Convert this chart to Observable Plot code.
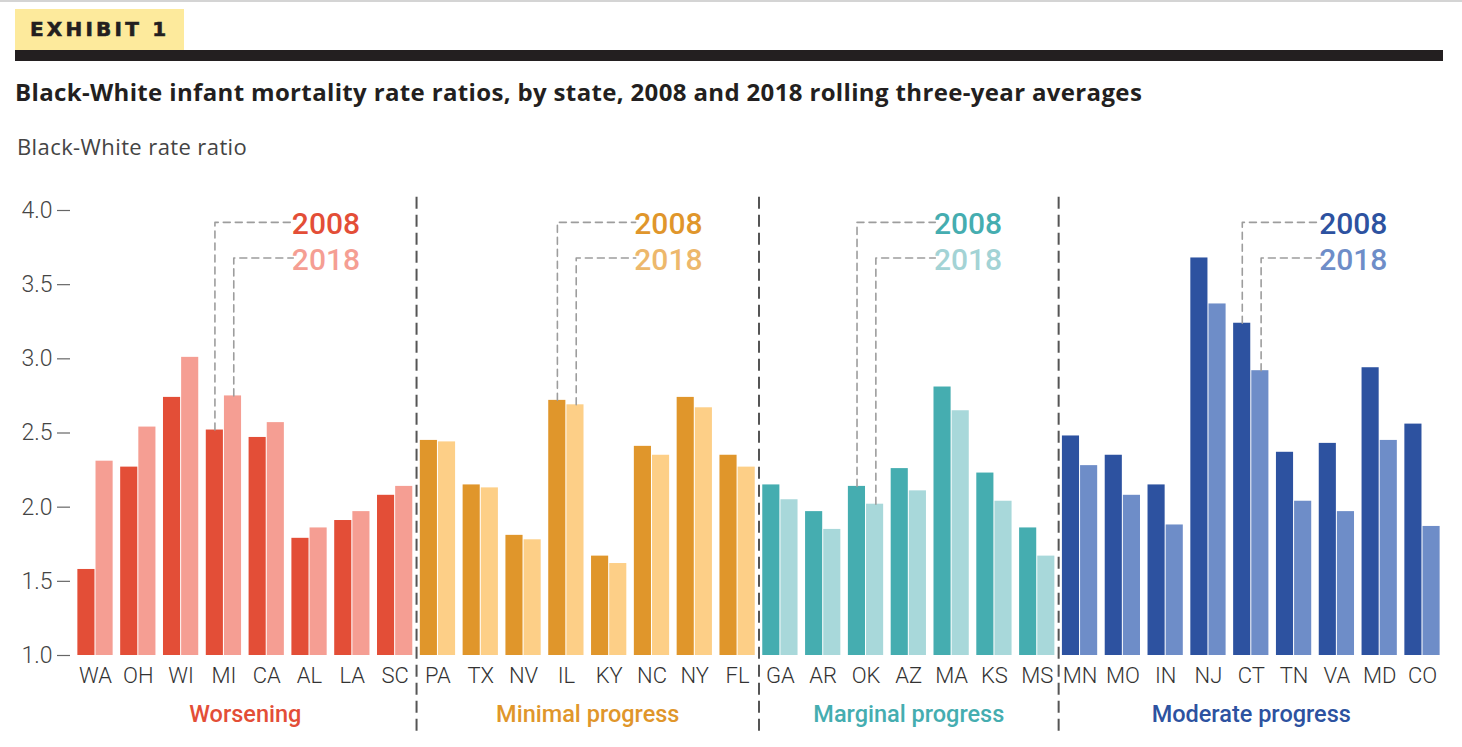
<!DOCTYPE html>
<html>
<head>
<meta charset="utf-8">
<script src="https://cdn.jsdelivr.net/npm/d3@7"></script>
<script src="https://cdn.jsdelivr.net/npm/@observablehq/plot@0.6"></script>
<style>
  html, body { margin: 0; padding: 0; background: #fff; }
  body { width: 1462px; height: 747px; position: relative; overflow: hidden; font-family: Roboto, "Open Sans", sans-serif; }
  #topline { position: absolute; left: 0; top: 0; width: 1462px; height: 2px; background: #d4d4d4; }
  #exhibit { position: absolute; left: 15px; top: 9px; width: 169px; height: 41px; background: #FDEA9C; }
  #exhibit span { position: absolute; left: 15px; top: 8px; font-family: "DejaVu Sans", sans-serif; font-weight: bold; font-size: 20px; letter-spacing: 3.2px; color: #231f20; line-height: 24px; -webkit-text-stroke: 0.6px #231f20; }
  #bar { position: absolute; left: 15px; top: 50px; width: 1428px; height: 11px; background: #231f20; }
  #title { position: absolute; left: 15px; top: 77px; font-family: "Open Sans", Roboto, sans-serif; font-weight: bold; font-size: 24px; color: #231f20; white-space: nowrap; line-height: 30px; letter-spacing: 0.35px; }
  #subtitle { position: absolute; left: 17px; top: 132px; font-family: "Open Sans", Roboto, sans-serif; font-size: 22px; color: #444; white-space: nowrap; line-height: 28px; letter-spacing: 0.4px; }
  #chart { position: absolute; left: 0; top: 180px; }
</style>
</head>
<body>
<div id="topline"></div>
<div id="exhibit"><span>EXHIBIT 1</span></div>
<div id="bar"></div>
<div id="title">Black-White infant mortality rate ratios, by state, 2008 and 2018 rolling three-year averages</div>
<div id="subtitle">Black-White rate ratio</div>
<div id="chart"></div>
<script>
// ---- data ----
const states = ["WA","OH","WI","MI","CA","AL","LA","SC",
                "PA","TX","NV","IL","KY","NC","NY","FL",
                "GA","AR","OK","AZ","MA","KS","MS",
                "MN","MO","IN","NJ","CT","TN","VA","MD","CO"];
const stateGroup = [0,0,0,0,0,0,0,0,
                    1,1,1,1,1,1,1,1,
                    2,2,2,2,2,2,2,
                    3,3,3,3,3,3,3,3,3];
const rate2008 = [1.58,2.27,2.74,2.52,2.47,1.79,1.91,2.08,
                  2.45,2.15,1.81,2.72,1.67,2.41,2.74,2.35,
                  2.15,1.97,2.14,2.26,2.81,2.23,1.86,
                  2.48,2.35,2.15,3.68,3.24,2.37,2.43,2.94,2.56];
const rate2018 = [2.31,2.54,3.01,2.75,2.57,1.86,1.97,2.14,
                  2.44,2.13,1.78,2.69,1.62,2.35,2.67,2.27,
                  2.05,1.85,2.02,2.11,2.65,2.04,1.67,
                  2.28,2.08,1.88,3.37,2.92,2.04,1.97,2.45,1.87];
const groups = ["Worsening","Minimal progress","Marginal progress","Moderate progress"];
const years = ["2008","2018"];
const annotState = ["MI","IL","OK","CT"];
const yTicks = [1.0,1.5,2.0,2.5,3.0,3.5,4.0];

// ---- styles ----
const dark  = ["#E34E37","#E0962B","#45ADB0","#2D52A0"];
const light = ["#F59E93","#FDCF87","#A8D8DA","#6E8DC8"];
const lightText = ["#F59E93","#EDB86C","#A3D3D5","#6E8DC8"];

const bars = [];
states.forEach((s, i) => {
  bars.push({i, g: stateGroup[i], year: "2008", v: rate2008[i]});
  bars.push({i, g: stateGroup[i], year: "2018", v: rate2018[i]});
});
const colorDomain = [], colorRange = [];
groups.forEach((g, k) => {
  colorDomain.push(k + "|2008", k + "|2018");
  colorRange.push(dark[k], light[k]);
});

const idx = d3.range(states.length);
const groupInfo = groups.map((name, k) => {
  const members = idx.filter(i => stateGroup[i] === k);
  return {name, k, center: d3.mean(members), last: d3.max(members)};
});
const separators = groupInfo.slice(0, -1).map(g => g.last + 0.5);

const y08 = 3.92, y18 = 3.68;
const ann = annotState.map((s, k) => {
  const i = states.indexOf(s);
  return {k, i, v08: rate2008[i], v18: rate2018[i]};
});
const annLines = [];
ann.forEach(a => {
  annLines.push({id: a.k + "a", pts: [[a.i - 0.21, a.v08], [a.i - 0.21, y08], [a.i + 1.62, y08]]});
  annLines.push({id: a.k + "b", pts: [[a.i + 0.23, a.v18], [a.i + 0.23, y18], [a.i + 1.62, y18]]});
});
const annLinePts = annLines.flatMap(l => l.pts.map(p => ({id: l.id, x: p[0], y: p[1]})));

const half = 0.40, gap = 0.012;

const plot = Plot.plot({
  width: 1462,
  height: 567,
  marginLeft: 73.6,
  marginRight: 18.6,
  marginTop: 30,
  marginBottom: 92,
  style: {fontFamily: "Roboto, sans-serif", background: "transparent"},
  x: {domain: [-0.5, states.length - 0.5], axis: null},
  y: {domain: [1, 4], axis: null},
  color: {type: "ordinal", domain: colorDomain, range: colorRange},
  marks: [
    Plot.rectY(bars, {
      x1: d => d.year === "2008" ? d.i - half - gap : d.i + gap,
      x2: d => d.year === "2008" ? d.i - gap : d.i + half + gap,
      y1: 1, y2: "v",
      fill: d => d.g + "|" + d.year
    }),
    Plot.ruleX(separators, {x: d => d, y1: 0.49, y2: 4.1, stroke: "#555", strokeWidth: 2, strokeDasharray: "12,6"}),
    Plot.line(annLinePts, {x: "x", y: "y", z: "id", stroke: "#9d9d9d", strokeWidth: 1.6, strokeDasharray: "7,5"}),
    Plot.text(ann, {x: d => d.i + 3.18, y: y08, dy: 2, text: () => years[0], textAnchor: "end", fill: d => dark[d.k], fontSize: 30, fontWeight: 500}),
    Plot.text(ann, {x: d => d.i + 3.18, y: y18, dy: 2, text: () => years[1], textAnchor: "end", fill: d => lightText[d.k], fontSize: 30, fontWeight: 500}),
    Plot.axisY(yTicks, {tickFormat: d3.format(".1f"), tickSize: 13, tickPadding: 5, dx: -3.6, fontSize: 23, fontWeight: 300, fill: "#444", stroke: "#666", strokeWidth: 1.2}),
    Plot.axisX(idx, {tickFormat: i => states[i], tickSize: 0, tickPadding: 12, fontSize: 22, fontWeight: 300, fill: "#333"}),
    Plot.text(groupInfo, {x: "center", y: 1, dy: 59, text: "name", fill: d => dark[d.k], fontSize: 23.5, fontWeight: 500})
  ]
});
document.getElementById("chart").appendChild(plot);
</script>
</body>
</html>
